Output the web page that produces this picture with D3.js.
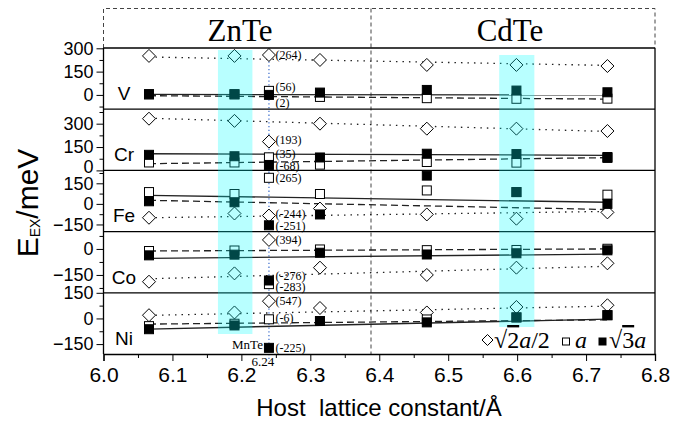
<!DOCTYPE html>
<html>
<head>
<meta charset="utf-8">
<script src="https://cdn.jsdelivr.net/npm/d3@7"></script>
<style>
  body { margin: 0; background: #fff; }
  text { font-family: "Liberation Sans", Arial, sans-serif; }
  .serif { font-family: "Liberation Serif", "Times New Roman", serif; }
</style>
</head>
<body>
<svg id="chart" width="694" height="423"></svg>
<script>
// host lattice constants (Angstrom) of the six hosts, ZnTe side then CdTe side
var lattice = [6.066, 6.19, 6.314, 6.469, 6.599, 6.731];
var elements = ["V", "Cr", "Fe", "Co", "Ni"];
var xTickValues = [6.0, 6.1, 6.2, 6.3, 6.4, 6.5, 6.6, 6.7, 6.8];

// E_EX (meV) for each TM pair distance: sqrt(2)a/2 (diamond), a (open sq), sqrt(3)a (filled sq)
var halfV  = [251, 251, 225, 193, 193, 186];
var aV     = [3, 3, -13, -21, -25, -24];
var root3V = [5, 5, 15, 32, 28, 17];

var halfCr  = [332, 318, 300, 268, 268, 253];
var aCr     = [51, 51, 37, 54, 50, 80];
var root3Cr = [100, 91, 83, 107, 105, 86];

var halfFe  = [-101, -70, -34, -77, -108, -62];
var aFe     = [86, 72, 72, 98, 86, 67];
var root3Fe = [19, 12, -77, 206, 86, 0];

var halfCo  = [-189, -141, -108, -150, -108, -83];
var aCo     = [-12, -9, -3, -7, -6, 1];
var root3Co = [-37, -33, -22, -32, -25, -8];

var halfNi  = [19, 35, 61, 35, 67, 77];
var aNi     = [-45, -31, -15, -6, 6, 19];
var root3Ni = [-63, -41, -15, -23, 6, 19];

// fitted lines, value at first and last lattice constant
var fitHalf  = [[244, 190], [335, 250], [-101, -55], [-172, -100], [18, 72]];
var fitA     = [[-5, -27], [43, 82], [26, -41], [-12, 0], [-33, -8]];
var fitRoot3 = [[3, 0], [107, 97], [62, 12], [-54, -30], [-62, -4]];

// MnTe reference (a = 6.24): quoted values and where the marker sits in each panel
var mnteLattice = 6.24;
var mnteLabels = [["(264)", "(56)", "(2)"], ["(193)", "(35)", "(-68)"], ["(-244)", "(265)", "(-251)"],
                  ["(394)", "(-283)", "(-276)"], ["(547)", "(-6)", "(-225)"]];
var mnteShown  = [[257, 26, 0], [185, 84, 35], [-85, 190, -156], [52, -203, -182], [101, -5, -172]];

// highlighted host lattice ranges
var bands = [[6.166, 6.216], [6.574, 6.625]];

var svg = d3.select("#chart");
var x = d3.scaleLinear().domain([6.0, 6.8]).range([103.5, 655]);
var plotTop = 48, plotBottom = 354, pH = (plotBottom - plotTop) / elements.length;

var yDomains = [[-92, 302], [0, 393], [-202, 244], [-253, 100], [-208, 150]];
var majorTicks = [[0, 150, 300], [0, 150, 300], [-150, 0, 150], [-150, 0], [-150, 0, 150]];
var halfData = [halfV, halfCr, halfFe, halfCo, halfNi];
var aData = [aV, aCr, aFe, aCo, aNi];
var root3Data = [root3V, root3Cr, root3Fe, root3Co, root3Ni];
// pixel nudges for the MnTe value labels (diamond, open, filled)
var labelShift = [[0, -4, 8], [-2, -4, 1], [-2, 0, 1], [0, 3, -5], [0, -1, 0]];

var panels = elements.map(function(el, i) {
  var top = plotTop + i * pH;
  return {
    name: el, i: i, top: top,
    y: d3.scaleLinear().domain(yDomains[i]).range([top + pH, top])
  };
});

function diamondPath(cx, cy, r) {
  return "M" + cx + "," + (cy - r) + "L" + (cx + r) + "," + cy + "L" + cx + "," + (cy + r) + "L" + (cx - r) + "," + cy + "Z";
}

// outer dashed frame above the panels and the ZnTe/CdTe divider
var frame = svg.append("g").attr("stroke", "#444").attr("stroke-width", 1).attr("stroke-dasharray", "4,3").attr("fill", "none");
frame.append("path").attr("d", "M" + x(6.0) + "," + plotTop + "V8.5H" + x(6.8) + "V" + plotTop);
frame.append("line").attr("x1", 371).attr("x2", 371).attr("y1", 8.5).attr("y2", plotBottom);

svg.append("text").attr("class", "serif").attr("x", 240).attr("y", 41)
  .attr("text-anchor", "middle").style("font-size", "31px").text("ZnTe");
svg.append("text").attr("class", "serif").attr("x", 510).attr("y", 41)
  .attr("text-anchor", "middle").style("font-size", "31px").text("CdTe");

// MnTe dotted guide
svg.append("line").attr("x1", x(mnteLattice)).attr("x2", x(mnteLattice))
  .attr("y1", plotTop + 2).attr("y2", plotBottom + 6)
  .attr("stroke", "#4a78d0").attr("stroke-width", 1.3).attr("stroke-dasharray", "1.3,2.5");

var x0 = lattice[0], x1 = lattice[lattice.length - 1];

panels.forEach(function(p) {
  var g = svg.append("g");
  var y = p.y;

  // fit lines
  [[fitHalf[p.i], "1.5,5"], [fitA[p.i], "7,4"], [fitRoot3[p.i], null]].forEach(function(f) {
    g.append("line")
      .attr("x1", x(x0)).attr("x2", x(x1))
      .attr("y1", y(f[0][0])).attr("y2", y(f[0][1]))
      .attr("stroke", "#222").attr("stroke-width", 1.3)
      .attr("stroke-dasharray", f[1]);
  });

  g.selectAll(".dia").data(halfData[p.i]).enter().append("path")
    .attr("d", function(d, j) { return diamondPath(x(lattice[j]), y(d), 6.5); })
    .attr("fill", "#fff").attr("stroke", "#000").attr("stroke-width", 1);

  g.selectAll(".osq").data(aData[p.i]).enter().append("rect")
    .attr("x", function(d, j) { return x(lattice[j]) - 4.5; })
    .attr("y", function(d) { return y(d) - 4.5; })
    .attr("width", 9).attr("height", 9)
    .attr("fill", "#fff").attr("stroke", "#000").attr("stroke-width", 1);

  g.selectAll(".fsq").data(root3Data[p.i]).enter().append("rect")
    .attr("x", function(d, j) { return x(lattice[j]) - 4.5; })
    .attr("y", function(d) { return y(d) - 4.5; })
    .attr("width", 9).attr("height", 9)
    .attr("fill", "#000").attr("stroke", "#000").attr("stroke-width", 1);

  // MnTe markers: diamond, open square, filled square
  var mx = x(mnteLattice), ms = mnteShown[p.i];
  g.append("path").attr("d", diamondPath(mx, y(ms[0]), 6.5))
    .attr("fill", "#fff").attr("stroke", "#000");
  g.append("rect").attr("x", mx - 4.5).attr("y", y(ms[1]) - 4.5).attr("width", 9).attr("height", 9)
    .attr("fill", "#fff").attr("stroke", "#000");
  g.append("rect").attr("x", mx - 4.5).attr("y", y(ms[2]) - 4.5).attr("width", 9).attr("height", 9)
    .attr("fill", "#000").attr("stroke", "#000");
  mnteLabels[p.i].forEach(function(t, k) {
    g.append("text").attr("class", "serif")
      .attr("x", mx + 6.5).attr("y", y(ms[k]) + labelShift[p.i][k])
      .attr("dy", "0.35em").style("font-size", "12px").text(t);
  });

  g.append("text").attr("x", 124).attr("y", p.top + 52)
    .attr("text-anchor", "middle").style("font-size", "19px").text(p.name);

  // y axis for the panel
  var ax = g.append("g").attr("transform", "translate(" + x(6.0) + ",0)")
    .call(d3.axisLeft(y).tickValues(majorTicks[p.i]).tickSize(7).tickPadding(3).tickFormat(d3.format("d")));
  ax.select(".domain").remove();
  ax.selectAll("text").style("font-family", "Liberation Sans").style("font-size", "18px").attr("fill", "#000");
  if (p.i === 1) ax.selectAll("text").filter(function(d) { return d === 0; }).attr("dy", "0.1em");
  var dom = yDomains[p.i];
  var minors = d3.range(Math.ceil(dom[0] / 75) * 75, dom[1] + 1, 75).filter(function(v) {
    return majorTicks[p.i].indexOf(v) < 0;
  });
  var mn = g.append("g").attr("transform", "translate(" + x(6.0) + ",0)")
    .call(d3.axisLeft(y).tickValues(minors).tickSize(4).tickFormat(""));
  mn.select(".domain").remove();
});

// panel separators and frame
var border = svg.append("g").attr("stroke", "#000").attr("stroke-width", 1.3);
panels.forEach(function(p) {
  border.append("line").attr("x1", x(6.0)).attr("x2", x(6.8)).attr("y1", p.top).attr("y2", p.top);
});
border.append("line").attr("x1", x(6.0)).attr("x2", x(6.0)).attr("y1", plotTop).attr("y2", plotBottom);
border.append("line").attr("x1", x(6.8)).attr("x2", x(6.8)).attr("y1", plotTop).attr("y2", plotBottom);

// cyan highlight over the chosen hosts
var bandTop = [panels[0].y(289), panels[0].y(257)];
var bandBottom = [panels[4].y(-91), panels[4].y(-50)];
svg.selectAll(".band").data(bands).enter().append("rect")
  .attr("x", function(d) { return x(d[0]); })
  .attr("width", function(d) { return x(d[1]) - x(d[0]); })
  .attr("y", function(d, i) { return bandTop[i]; })
  .attr("height", function(d, i) { return bandBottom[i] - bandTop[i]; })
  .attr("fill", "#00ffff").attr("opacity", 0.28);

// x axis
var xa = svg.append("g").attr("transform", "translate(0," + plotBottom + ")")
  .call(d3.axisBottom(x).tickValues(xTickValues).tickSize(7).tickPadding(6).tickFormat(d3.format(".1f")));
xa.select(".domain").attr("stroke-width", 1.3);
xa.selectAll("text").style("font-family", "Liberation Sans").style("font-size", "21px").attr("fill", "#000");
var xm = svg.append("g").attr("transform", "translate(0," + plotBottom + ")")
  .call(d3.axisBottom(x).tickValues(d3.range(6.05, 6.8, 0.1)).tickSize(4).tickFormat(""));
xm.select(".domain").remove();

svg.append("text").attr("class", "serif").attr("x", x(mnteLattice) - 6).attr("y", 349)
  .attr("text-anchor", "end").style("font-size", "13px").text("MnTe");
svg.append("text").attr("class", "serif").attr("x", x(mnteLattice) - 6).attr("y", 366)
  .attr("text-anchor", "middle").style("font-size", "13px").text("6.24");

// legend
var lg = svg.append("g");
lg.append("path").attr("d", diamondPath(487.5, 340, 5.5)).attr("fill", "#fff").attr("stroke", "#000");
var t1 = lg.append("text").attr("class", "serif").attr("x", 494).attr("y", 348).style("font-size", "24px");
t1.append("tspan").text("√");
t1.append("tspan").style("text-decoration", "overline").text("2");
t1.append("tspan").style("font-style", "italic").text("a");
t1.append("tspan").text("/2");
lg.append("rect").attr("x", 562.5).attr("y", 338).attr("width", 7).attr("height", 7)
  .attr("fill", "#fff").attr("stroke", "#000");
lg.append("text").attr("class", "serif").attr("x", 575).attr("y", 348)
  .style("font-size", "24px").style("font-style", "italic").text("a");
lg.append("rect").attr("x", 599).attr("y", 338).attr("width", 7).attr("height", 7)
  .attr("fill", "#000").attr("stroke", "#000");
var t2 = lg.append("text").attr("class", "serif").attr("x", 609).attr("y", 348).style("font-size", "24px");
t2.append("tspan").text("√");
t2.append("tspan").style("text-decoration", "overline").text("3");
t2.append("tspan").style("font-style", "italic").text("a");

// axis titles
svg.append("text").attr("x", 379).attr("y", 416).attr("text-anchor", "middle")
  .style("font-size", "24px").style("white-space", "pre").text("Host  lattice constant/Å");
var yt = svg.append("text").attr("transform", "translate(38,203) rotate(-90)")
  .attr("text-anchor", "middle").style("font-size", "30px");
yt.append("tspan").text("E");
yt.append("tspan").style("font-size", "14px").attr("baseline-shift", "-2").text("EX");
yt.append("tspan").text("/meV");
</script>
</body>
</html>
